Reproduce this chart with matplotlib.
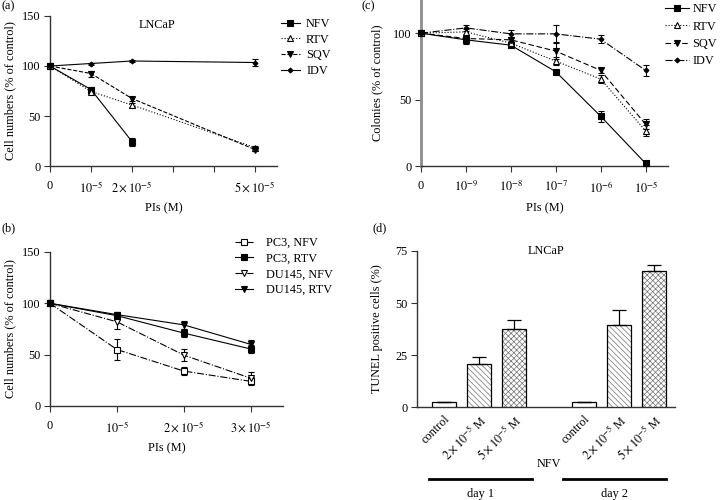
import numpy as np
import matplotlib
matplotlib.use("Agg")
import matplotlib.pyplot as plt
import matplotlib.transforms as mtransforms

plt.rcParams['font.family'] = ['Liberation Serif', 'DejaVu Serif']
plt.rcParams['mathtext.fontset'] = 'stix'
plt.rcParams['font.size'] = 8.8
plt.rcParams['hatch.linewidth'] = 0.5

# ---- data ----
# (a) LNCaP cell numbers
a_dose = [0, 1e-5, 2e-5, 5e-5]
a_nfv = [100, 76.5, 24.5]
a_nfv_err = [0, 3, 4]
a_rtv = [100, 74.5, 61, 18.5]
a_rtv_err = [0, 2, 2, 1.5]
a_sqv = [100, 92.5, 67.5, 16.5]
a_sqv_err = [0, 3, 2, 1.5]
a_idv = [100, 102.5, 105, 103.5]
a_idv_err = [0, 1, 1, 3.5]
a_ticks = [0, 1e-5, 2e-5, 3e-5, 4e-5, 5e-5]
a_ticklabels = ['0', r'$10^{-5}$', r'$2\times10^{-5}$', '', '', r'$5\times10^{-5}$']

# (b) PC3 / DU145 cell numbers
b_dose = [0, 1e-5, 2e-5, 3e-5]
b_pc3_nfv = [100, 55, 34, 24]
b_pc3_nfv_err = [0, 10, 4, 4]
b_pc3_rtv = [100, 88, 71, 55.5]
b_pc3_rtv_err = [0, 4, 4, 3.5]
b_du_nfv = [100, 82, 49.5, 27]
b_du_nfv_err = [0, 7, 6, 6]
b_du_rtv = [100, 89, 79, 60]
b_du_rtv_err = [0, 3, 4, 4]
b_ticks = [0, 1e-5, 2e-5, 3e-5]
b_ticklabels = ['0', r'$10^{-5}$', r'$2\times10^{-5}$', r'$3\times10^{-5}$']

# (c) colony formation
c_labels = ['0', r'$10^{-9}$', r'$10^{-8}$', r'$10^{-7}$', r'$10^{-6}$', r'$10^{-5}$']
c_nfv = [100, 95, 91, 71, 37.5, 2]
c_nfv_err = [0, 3, 1.5, 1, 4, 1]
c_rtv = [100, 101, 92.5, 79, 65.5, 26.5]
c_rtv_err = [0, 2, 1.5, 3, 3, 4]
c_sqv = [100, 96, 95, 86.5, 72, 31.5]
c_sqv_err = [0, 2, 2, 6, 2, 4]
c_idv = [100, 104, 99.5, 99.5, 95.5, 72]
c_idv_err = [0, 2.5, 3, 6.5, 3, 4]

# (d) TUNEL
d_labels = ['control', r'$2\times10^{-5}$ M', r'$5\times10^{-5}$ M'] * 2
d_values = [2.2, 20.5, 37.5, 2.2, 39.4, 65.3]
d_err = [0.4, 3.3, 4.4, 0.4, 7.2, 2.9]
d_days = ['day 1', 'day 2']

W, H = 720, 500
fig = plt.figure(figsize=(7.2, 5.0), dpi=100)


def px_axes(left, right, top, bottom):
    return fig.add_axes([left / W, 1 - bottom / H, (right - left) / W, (bottom - top) / H])


def style(ax):
    for s in ['top', 'right']:
        ax.spines[s].set_visible(False)
    for s in ['left', 'bottom']:
        ax.spines[s].set_color('#333333')
        ax.spines[s].set_linewidth(1.0)
    ax.tick_params(direction='out', length=4, width=0.8, color='#333333', pad=3)


def line(ax, x, y, e, ls, marker, mfc, label, ms=4.5):
    x = x[:len(y)]
    ax.errorbar(x, y, yerr=e, ls='none', color='black', capsize=2.5, elinewidth=0.8,
                capthick=0.8, clip_on=False, zorder=3)
    ax.plot(x, y, ls=ls, lw=0.8, color='black', marker=marker, mfc=mfc, mec='black',
            ms=ms, mew=0.8, label=label, clip_on=False, zorder=4)


def legend(ax, x, y, hl, pad, spacing):
    ax.legend(loc='upper left', bbox_to_anchor=(x / W, 1 - y / H), bbox_transform=fig.transFigure,
              frameon=False, borderpad=0, borderaxespad=0, handlelength=hl,
              handletextpad=pad, labelspacing=spacing)


# ---- (a) ----
ax = px_axes(50, 277, 16, 166)
style(ax)
line(ax, a_dose, a_nfv, a_nfv_err, '-', 's', 'black', 'NFV', 5)
line(ax, a_dose, a_rtv, a_rtv_err, ':', '^', 'white', 'RTV')
line(ax, a_dose, a_sqv, a_sqv_err, '--', 'v', 'black', 'SQV')
line(ax, a_dose, a_idv, a_idv_err, '-', 'D', 'black', 'IDV', 2.5)
ax.set_xlim(0, 5.54e-5)
ax.set_ylim(0, 150)
ax.set_yticks([0, 50, 100, 150])
ax.set_xticks(a_ticks)
ax.set_xticklabels(a_ticklabels)
ax.tick_params(axis='x', pad=6)
ax.set_xlabel('PIs (M)', labelpad=5)
ax.set_ylabel('Cell numbers (% of control)', labelpad=4)
ax.text(0.47, 0.98, 'LNCaP', transform=ax.transAxes, ha='center', va='top')
legend(ax, 281, 18, 1.55, 0.5, 0.3)

# ---- (b) ----
ax = px_axes(50, 283, 252, 406)
style(ax)
line(ax, b_dose, b_pc3_nfv, b_pc3_nfv_err, '-.', 's', 'white', 'PC3, NFV')
line(ax, b_dose, b_pc3_rtv, b_pc3_rtv_err, '-', 's', 'black', 'PC3, RTV')
line(ax, b_dose, b_du_nfv, b_du_nfv_err, '-.', 'v', 'white', 'DU145, NFV')
line(ax, b_dose, b_du_rtv, b_du_rtv_err, '-', 'v', 'black', 'DU145, RTV')
ax.set_xlim(0, 3.48e-5)
ax.set_ylim(0, 150)
ax.set_yticks([0, 50, 100, 150])
ax.set_xticks(b_ticks)
ax.set_xticklabels(b_ticklabels)
ax.tick_params(axis='x', pad=6)
ax.set_xlabel('PIs (M)', labelpad=5)
ax.set_ylabel('Cell numbers (% of control)', labelpad=4)
legend(ax, 235, 237, 1.5, 1.0, 0.3)

# ---- (c) ----
ax = px_axes(421, 668, 0, 166)
style(ax)
ax.spines['left'].set_color('#8c8c8c')
ax.spines['left'].set_linewidth(2)
cx = np.arange(len(c_labels))
line(ax, cx, c_nfv, c_nfv_err, '-', 's', 'black', 'NFV', 5)
line(ax, cx, c_rtv, c_rtv_err, ':', '^', 'white', 'RTV')
line(ax, cx, c_sqv, c_sqv_err, (0, (5, 2.5)), 'v', 'black', 'SQV')
line(ax, cx, c_idv, c_idv_err, '-.', 'D', 'black', 'IDV', 2.5)
ax.set_xlim(0, 5.5)
ax.set_ylim(0, 125)
ax.set_yticks([0, 50, 100])
ax.set_xticks(cx)
ax.set_xticklabels(c_labels)
ax.tick_params(axis='x', pad=6)
ax.set_xlabel('PIs (M)', labelpad=5)
ax.set_ylabel('Colonies (% of control)', labelpad=7)
legend(ax, 665, 3, 2.0, 0.25, 0.45)

# ---- (d) ----
ax = px_axes(417, 675, 251, 407)
style(ax)
dx = [0, 1, 2, 4, 5, 6]
hatches = ['', '\\\\\\\\\\\\', 'xxxxxx'] * 2
bars = ax.bar(dx, d_values, width=0.66, color='white', edgecolor='black', linewidth=0.9,
              yerr=[np.zeros(len(d_err)), d_err],
              error_kw=dict(elinewidth=0.9, capsize=5, capthick=0.9, ecolor='black'),
              zorder=3)
for b, h in zip(bars, hatches):
    b.set_hatch(h)
    b._hatch_color = (0.45, 0.45, 0.45, 1.0)
ax.set_xlim(-0.77, 6.6)
ax.set_ylim(0, 75)
ax.set_yticks([0, 25, 50, 75])
ax.set_xticks(dx)
ax.set_xticklabels(d_labels, rotation=45, ha='right', rotation_mode='anchor')
ax.tick_params(axis='x', length=0, pad=4)
ax.set_ylabel('TUNEL positive cells (%)', labelpad=9)
ax.text(0.50, 1.0, 'LNCaP', transform=ax.transAxes, ha='center', va='center')
trans = mtransforms.blended_transform_factory(ax.transData, ax.transAxes)
ax.text(3.0, -0.365, 'NFV', transform=trans, ha='center', va='center')
for (x0, x1), lab in zip([(-0.43, 2.51), (3.4, 6.34)], d_days):
    ax.plot([x0, x1], [-0.46, -0.46], color='black', lw=2, transform=trans, clip_on=False)
    ax.text((x0 + x1) / 2, -0.555, lab, transform=trans, ha='center', va='center')

# panel letters
for lab, x, y in [('(a)', 1, 6), ('(b)', 1, 228), ('(c)', 361, 6), ('(d)', 372, 228)]:
    fig.text(x / W, 1 - y / H, lab, ha='left', va='center')

plt.savefig('out.png', dpi=100)
